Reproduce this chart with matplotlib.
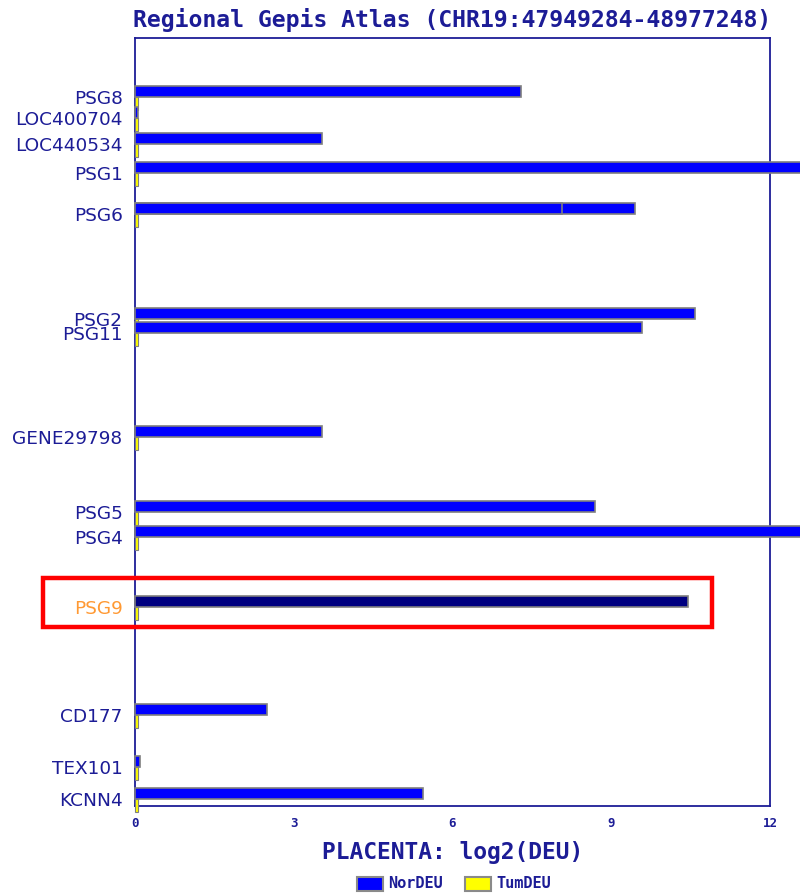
import numpy as np
import matplotlib.pyplot as plt
from matplotlib.patches import Rectangle

# gene track: name, position along the region (track units, top = 0), log2(DEU)
genes = ['PSG8', 'LOC400704', 'LOC440534', 'PSG1', 'PSG6', 'PSG2', 'PSG11',
         'GENE29798', 'PSG5', 'PSG4', 'PSG9', 'CD177', 'TEX101', 'KCNN4']
gene_pos = [59, 80, 106, 135, 176, 281, 295, 399, 474, 499, 569, 677, 729, 761]
nor_deu = [7.3, 0.05, 3.53, 13.0, 9.45, 10.58, 9.58, 3.53, 8.7, 13.0, 10.45, 2.5, 0.1, 5.45]
tum_deu = [0.06] * len(genes)
# PSG6 has a second, shorter probe drawn over the first one
psg6_inner = 8.07
highlight = 'PSG9'

x_ticks = [0, 3, 6, 9, 12]

navy = '#1c1c96'
mono = 'DejaVu Sans Mono'

fig = plt.figure(figsize=(8, 8.94), dpi=100)
ax = fig.add_axes([135 / 800, 1 - 806 / 894, 635 / 800, 768 / 894])

h = 11
for g, p, v, t in zip(genes, gene_pos, nor_deu, tum_deu):
    col = '#000080' if g == highlight else '#0000ff'
    ax.barh(p, v, height=-h, align='edge', color=col, edgecolor='#7f7f7f',
            linewidth=1.2, clip_on=False, zorder=3)
    ax.barh(p, t, height=h + 2, align='edge', color='#ffff00', edgecolor='#7f7f7f',
            linewidth=0.8, clip_on=False, zorder=3)
    if g == 'PSG6':
        ax.barh(p, psg6_inner, height=-h, align='edge', color='#0000ff',
                edgecolor='#7f7f7f', linewidth=1.2, clip_on=False, zorder=4)

ax.set_xlim(0, 12)
ax.set_ylim(768, 0)
ax.set_yticks(gene_pos)
ax.set_yticklabels(genes, fontsize=13.3, color=navy)
for lab in ax.get_yticklabels():
    if lab.get_text() == highlight:
        lab.set_color('#ff9933')
ax.tick_params(axis='y', length=0, pad=9)
ax.set_xticks(x_ticks)
ax.set_xticklabels([str(x) for x in x_ticks], family=mono, fontweight='bold',
                   fontsize=9, color=navy)
ax.tick_params(axis='x', length=0, pad=8)
for s in ax.spines.values():
    s.set_color(navy)
    s.set_linewidth(1.3)

ax.set_title('Regional Gepis Atlas (CHR19:47949284-48977248)', family=mono,
             fontweight='bold', fontsize=16.7, color=navy, pad=8)
ax.set_xlabel('PLACENTA: log2(DEU)', family=mono, fontweight='bold',
              fontsize=16.5, color=navy, labelpad=8)

# legend
for x0, c, name in [(357, '#0000ff', 'NorDEU'), (465, '#ffff00', 'TumDEU')]:
    fig.add_artist(Rectangle((x0 / 800, 1 - 891 / 894), 26 / 800, 14 / 894,
                             transform=fig.transFigure, facecolor=c,
                             edgecolor='#8a8a8a', linewidth=1.5))
    fig.text((x0 + 31) / 800, 1 - 884 / 894, name, family=mono, fontweight='bold',
             fontsize=11, color=navy, va='center')

# red highlight box around PSG9
fig.add_artist(Rectangle((43 / 800, 1 - 627 / 894), 669 / 800, 49 / 894,
                         transform=fig.transFigure, fill=False,
                         edgecolor='#ff0000', linewidth=3.2))

fig.savefig('out.png', dpi=100)
